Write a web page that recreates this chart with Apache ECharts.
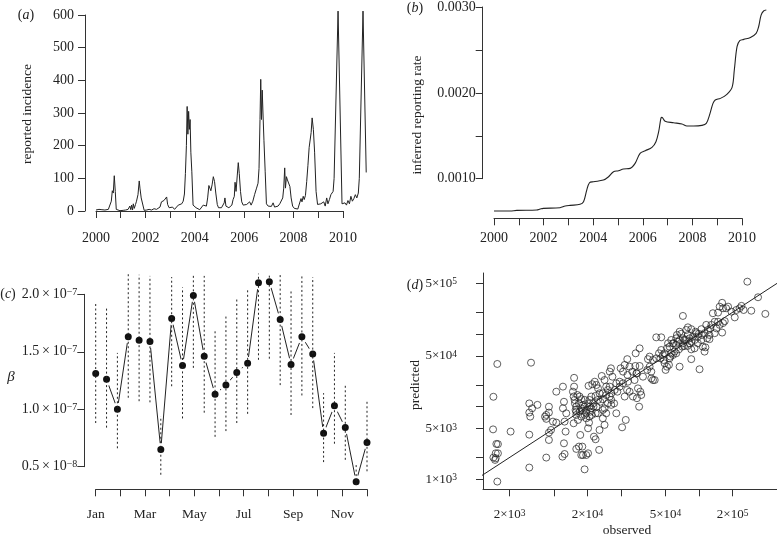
<!DOCTYPE html>
<html>
<head>
<meta charset="utf-8">
<script src="https://cdn.jsdelivr.net/npm/echarts@6.0.0/dist/echarts.min.js"></script>
<style>html,body{margin:0;padding:0;background:#fff}#chart{width:777px;height:538px}</style>
</head>
<body>
<div id="chart"></div>
<script>
// ---- Panel (a): reported incidence ----
const incYear = [2000.00,2000.06,2000.12,2000.18,2000.24,2000.30,2000.36,2000.43,2000.50,2000.57,2000.62,2000.66,2000.70,2000.74,2000.78,2000.82,2000.88,2000.97,2001.10,2001.20,2001.30,2001.37,2001.41,2001.44,2001.48,2001.51,2001.55,2001.60,2001.64,2001.70,2001.75,2001.78,2001.83,2001.89,2001.95,2002.05,2002.15,2002.25,2002.35,2002.45,2002.52,2002.59,2002.65,2002.70,2002.75,2002.80,2002.86,2002.90,2002.96,2003.02,2003.10,2003.18,2003.26,2003.33,2003.40,2003.47,2003.53,2003.58,2003.62,2003.66,2003.69,2003.72,2003.75,2003.78,2003.81,2003.84,2003.88,2003.93,2003.98,2004.05,2004.12,2004.20,2004.27,2004.34,2004.41,2004.47,2004.52,2004.57,2004.61,2004.65,2004.70,2004.75,2004.80,2004.85,2004.91,2004.96,2005.02,2005.08,2005.14,2005.19,2005.22,2005.26,2005.32,2005.38,2005.44,2005.50,2005.55,2005.60,2005.63,2005.67,2005.72,2005.76,2005.80,2005.85,2005.90,2005.96,2006.03,2006.10,2006.17,2006.22,2006.28,2006.35,2006.42,2006.50,2006.56,2006.60,2006.64,2006.67,2006.70,2006.73,2006.76,2006.80,2006.85,2006.90,2006.97,2007.04,2007.10,2007.17,2007.23,2007.30,2007.37,2007.44,2007.50,2007.56,2007.60,2007.64,2007.67,2007.71,2007.75,2007.80,2007.85,2007.90,2007.96,2008.03,2008.10,2008.17,2008.24,2008.30,2008.34,2008.39,2008.43,2008.48,2008.53,2008.58,2008.63,2008.67,2008.71,2008.75,2008.80,2008.85,2008.91,2008.97,2009.04,2009.10,2009.16,2009.22,2009.28,2009.34,2009.39,2009.45,2009.51,2009.57,2009.60,2009.64,2009.80,2009.96,2010.02,2010.08,2010.14,2010.20,2010.26,2010.32,2010.38,2010.44,2010.50,2010.56,2010.62,2010.66,2010.81,2010.94];
const incValue = [3,6,5,8,4,6,3,7,5,10,30,62,55,108,60,5,2,1,2,3,5,15,4,18,3,22,8,20,30,50,92,70,40,35,2,3,5,3,7,5,8,12,28,24,32,28,43,20,10,6,12,5,8,18,20,22,30,52,115,200,320,235,305,250,280,180,120,18,12,10,6,4,10,18,22,15,40,78,70,62,80,105,90,55,20,10,6,10,8,25,40,15,12,10,8,18,35,45,88,60,110,148,115,60,28,18,15,20,25,28,18,30,50,70,85,130,280,403,280,370,300,215,120,22,15,20,14,25,12,18,15,22,25,40,70,132,70,105,95,100,75,40,15,8,12,6,10,38,28,45,35,48,90,140,195,190,240,285,250,180,60,20,15,22,18,28,15,40,22,35,50,45,60,100,612,22,18,25,18,32,22,45,30,38,50,40,55,100,612,118];

// ---- Panel (b): inferred reporting rate ----
const rateYear = [2000.00,2000.65,2000.92,2001.72,2001.86,2001.99,2002.66,2002.87,2003.07,2003.47,2003.61,2003.74,2003.85,2004.01,2004.41,2004.62,2004.82,2005.02,2005.22,2005.49,2005.69,2005.89,2006.10,2006.37,2006.53,2006.64,2006.73,2006.77,2006.90,2007.24,2007.58,2007.78,2008.05,2008.38,2008.56,2008.69,2008.83,2008.92,2009.13,2009.39,2009.60,2009.69,2009.80,2009.91,2010.07,2010.34,2010.57,2010.67,2010.77,2010.87,2010.98];
const rateValue = [0.000624,0.000624,0.000632,0.000636,0.000647,0.000655,0.000663,0.000682,0.00069,0.000702,0.000733,0.000868,0.000953,0.000965,0.000984,0.001023,0.001081,0.001093,0.001112,0.00112,0.001178,0.001295,0.001326,0.001364,0.00143,0.001547,0.001702,0.001713,0.001667,0.001651,0.001636,0.001612,0.001612,0.00162,0.001643,0.00174,0.001876,0.001915,0.001934,0.001981,0.002062,0.002264,0.002535,0.002605,0.00262,0.002643,0.00269,0.002767,0.002903,0.00295,0.002961];
const yearTicks = [2000,2001,2002,2003,2004,2005,2006,2007,2008,2009,2010];

// ---- Panel (c): seasonal transmission beta (units of 1e-7) ----
const monthNames = ['Jan','Feb','Mar','Apr','May','Jun','Jul','Aug','Sep','Oct','Nov','Dec'];
const betaPeriod = [1,2,3,4,5,6,7,8,9,10,11,12,13,14,15,16,17,18,19,20,21,22,23,24,25,26];
const betaMean  = [1.31,1.26,1.00,1.63,1.60,1.59,0.65,1.79,1.38,1.99,1.46,1.13,1.21,1.32,1.40,2.10,2.11,1.78,1.39,1.63,1.48,0.79,1.03,0.84,0.37,0.71];
const betaUpper = [1.93,1.88,1.49,2.18,2.17,2.16,0.94,2.15,2.06,2.18,2.16,1.68,1.81,1.97,2.05,2.18,2.18,2.18,2.04,2.17,2.15,1.14,1.49,1.22,0.53,1.07];
const betaLower = [0.88,0.84,0.66,1.10,1.07,1.06,0.43,1.20,0.92,1.36,0.97,0.76,0.81,0.88,0.96,1.43,1.44,1.21,0.95,1.12,1.01,0.54,0.70,0.56,0.34,0.46];
const betaTickVals = [0.5,1.0,1.5,2.0];
const betaTickMant = ['0.5','1.0','1.5','2.0'];
const betaTickExp  = ['\u22128','\u22127','\u22127','\u22127'];

// ---- Panel (d): predicted vs observed ----
const observed = [1550,1430,1420,1430,1500,1570,1500,1520,1570,1480,1550,2040,3000,3000,3000,3000,3060,3180,3550,3110,4260,4150,4500,4500,4260,4890,5240,4500,4500,4260,4700,
5240,6010,6140,6010,6440,6220,6350,5950,6220,6140,7570,7570,7390,7500,7650,7700,7920,7800,7920,8200,7500,8600,8370,7920,8780,9400,8970,9090,9730,10100,10100,10300,9730,9400,9730,9090,8780,8480,8100,8370,8780,9400,10100,10400,10800,10200,11000,11600,12000,12400,12800,12400,13000,13700,11800,11300,10600,10900,11800,12400,13700,14200,12800,11400,11800,12700,13400,14200,14700,15200,15800,16300,16300,17300,18100,16300,16700,15800,16200,19800,20400,22000,21500,22600,23800,23000,22800,20800,21500,22700,23800,26400,25500,27700,29000,30300,29700,28300,27400,26800,29300,25200,19400,18500,
8480,9090,9730,10400,11200,12000,8780,10400,7920,9400,10800,13700,14700,15200,14200,15800,17500,18100,19400,20800,14700,13700,
27000,29300,27700,31400,34300,36000,37300,38600,40000,37300,36000,34800,38600,41300,41300,45800,43700,45000,47400,48100,49100,50100,51500,53700,54400,56300,51500,58300,56300,54400,59000,62400,64600,63300,66900,69200,71600,74100,73300,78600,70600,65900,60300,58300,55200,66900,85100,101000,85100,91100,97600,108000,112000,114000,105000,106000,99500,94300,88000,82200,85100,76700,71600,79400,85100,93000,105000,116000,126000,124000,138000,143000,153000,164000,170000,161000,133000,148000,153000,161000,164000,175000,182000,195000,209000,216000,231000,240000,251000,294000,338000,271000,393000,124000,118000,
45800,49100,52700,62400,66900,71600,76700,82200,91100,97600,112000,120000,129000,138000,148000,79400,62400];
const predicted = [38800,13700,4870,1990,1950,2280,2280,3070,3050,1850,930,4540,1450,4120,11100,8300,7300,9500,10600,40400,7700,7300,8300,10000,6800,6230,6040,4400,3480,1990,4780,
16100,18900,11700,9500,8110,6230,4540,2050,2230,3130,25000,18900,16100,13800,12400,11100,10000,9020,7700,6570,5910,4080,2820,2620,2160,1370,2820,2160,2160,2280,5040,6040,6920,7700,9020,10600,12700,13800,14500,11100,9500,10000,11100,12400,13800,19400,20400,22100,19900,17900,15300,12400,11700,12700,14100,10000,8550,7700,8110,8110,6920,5610,4780,3870,3560,2540,26500,23300,18900,17000,13800,12400,10600,11100,8110,15300,25900,30400,33800,33800,5200,6570,13800,17000,16100,22100,27400,30400,37600,45200,35600,23300,13800,13100,10000,14500,16100,17900,28800,36400,36400,30400,18900,16100,
8550,8840,8110,10000,11100,10000,7300,7300,8550,12400,9500,15300,14500,11100,9500,18900,17000,21000,22100,21000,8110,9020,
54400,63700,28800,25900,32100,35600,30400,23300,23300,24500,49000,45200,44000,46400,90300,90300,54400,46400,51600,44000,39600,32100,35600,37600,46400,54400,63700,74700,83000,67200,74700,70800,78800,97200,108000,101000,87500,83000,68600,68600,67200,61600,57400,51600,49000,35600,45200,32800,61600,63700,74700,67200,57400,65700,83000,97200,101000,103000,92300,87500,78800,114000,178000,124000,117000,108000,117000,134000,120000,97200,103000,120000,134000,142000,151000,105000,194000,198000,239000,270000,227000,227000,239000,204000,170000,215000,227000,245000,215000,210000,322000,528000,190000,85200,87500,
60400,54400,74700,54400,83000,74700,83000,74700,83000,92300,103000,114000,134000,148000,148000,97200,87500];
const dXTickVals = [2000,5000,10000,20000,50000,100000,200000];
const dXLabelVals = [2000,10000,50000,200000];
const dXLabelMant = ['2','2','5','2'];
const dXLabelExp  = ['3','4','4','5'];
const dYTickVals = [1000,2000,5000,10000,20000,50000,100000,200000,500000];
const dYLabelVals = [1000,5000,50000,500000];
const dYLabelMant = ['1','5','5','5'];
const dYLabelExp  = ['3','3','4','5'];
const identityLine = [1000, 1000000];

// ---------------------------------------------------------------
const FONT = 'Liberation Serif';
const INK = '#222';
const lbl = (extra) => Object.assign({fontFamily: FONT, fontSize: 14, color: INK}, extra);
const axisLine = {show: true, lineStyle: {color: '#333', width: 1}};
const axisTick = (extra) => Object.assign({show: true, length: 7, inside: false, lineStyle: {color: '#333', width: 1}}, extra || {});
const L10 = v => Math.log10(v);
const hiddenAxis = (extra) => Object.assign({type: 'value', show: false, splitLine: {show: false}}, extra);
const sciRich = (base, sup) => ({
  m: {fontFamily: FONT, fontSize: base, color: INK, verticalAlign: 'bottom', lineHeight: base},
  s: {fontFamily: FONT, fontSize: sup, color: INK, verticalAlign: 'top', lineHeight: sup, padding: [0, 0, 6, 0]}
});
const sciText = (mant, exp, sep) => `{m|${mant}${sep}\u00d7${sep}10}{s|${exp}}`;
const logLabel = (vals, mants, exps, sep) => v => {
  for (let i = 0; i < vals.length; i++) if (Math.abs(L10(vals[i]) - v) < 1e-6) return sciText(mants[i], exps[i], sep);
  return '';
};

const YEAR_PX_A = 24.7, YEAR_PX_B = 24.8;

const chart = echarts.init(document.getElementById('chart'), null, {renderer: 'canvas'});

const option = {
  animation: false,
  backgroundColor: '#fff',
  grid: [
    {left: 96, top: 15, width: YEAR_PX_A * 11, height: 196},      // 0: data (a)
    {left: 494, top: 6.7, width: YEAR_PX_B * 11, height: 172},     // 1: data (b)
    {left: 95.7, top: 294.3, width: 271.3, height: 172.4},         // 2: (c)
    {left: 483, top: 273, width: 294, height: 216.3},              // 3: (d)
    {left: 96, top: 15, width: YEAR_PX_A * 10, height: 196},       // 4: axes (a)
    {left: 494, top: 6.7, width: YEAR_PX_B * 10, height: 172}      // 5: axes (b)
  ],
  xAxis: [
    hiddenAxis({gridIndex: 0, min: 2000, max: 2011}),
    hiddenAxis({gridIndex: 1, min: 2000, max: 2011}),
    {gridIndex: 2, type: 'value', min: 1, max: 12, interval: 1, offset: 22.6,
     axisLine, axisTick: axisTick(), splitLine: {show: false},
     axisLabel: lbl({fontSize: 13.5, margin: 18, formatter: v => (v % 2 === 1 ? monthNames[v - 1] : '')})},
    {gridIndex: 3, type: 'value', min: 3.062, max: 5.699,
     axisLine, splitLine: {show: false},
     axisTick: axisTick({customValues: dXTickVals.map(L10)}),
     axisLabel: lbl({margin: 19, customValues: dXLabelVals.map(L10), rich: sciRich(13, 9.5),
       formatter: logLabel(dXLabelVals, dXLabelMant, dXLabelExp, '')})},
    {gridIndex: 4, type: 'value', min: 2000, max: 2010, interval: 1, offset: 7,
     axisLine, axisTick: axisTick({customValues: yearTicks}), splitLine: {show: false},
     axisLabel: lbl({margin: 13, formatter: v => (v % 2 === 0 ? String(v) : '')})},
    {gridIndex: 5, type: 'value', min: 2000, max: 2010, interval: 1, offset: 39.6,
     axisLine, axisTick: axisTick({customValues: yearTicks}), splitLine: {show: false},
     axisLabel: lbl({margin: 13, formatter: v => (v % 2 === 0 ? String(v) : '')})}
  ],
  yAxis: [
    hiddenAxis({gridIndex: 0, min: 0, max: 600}),
    hiddenAxis({gridIndex: 1, min: 0.001, max: 0.003}),
    {gridIndex: 2, type: 'value', min: 0.5, max: 2.0, interval: 0.5, offset: 11.4,
     axisLine, axisTick: axisTick(), splitLine: {show: false},
     axisLabel: lbl({margin: 7, rich: sciRich(14, 10), formatter: v => {
       for (let i = 0; i < betaTickVals.length; i++)
         if (Math.abs(betaTickVals[i] - v) < 1e-9) return sciText(betaTickMant[i], betaTickExp[i], '\u2009');
       return '';
     }})},
    {gridIndex: 3, type: 'value', min: 2.862, max: 5.842,
     axisLine, splitLine: {show: false},
     axisTick: axisTick({customValues: dYTickVals.map(L10)}),
     axisLabel: lbl({margin: 26, customValues: dYLabelVals.map(L10), rich: sciRich(13, 9.5),
       formatter: logLabel(dYLabelVals, dYLabelMant, dYLabelExp, '')})},
    {gridIndex: 4, type: 'value', min: 0, max: 600, interval: 100, offset: 11,
     axisLine, axisTick: axisTick(), splitLine: {show: false},
     axisLabel: lbl({margin: 11, formatter: v => String(v)})},
    {gridIndex: 5, type: 'value', min: 0.001, max: 0.003, interval: 0.0005, offset: 11.3,
     axisLine, axisTick: axisTick(), splitLine: {show: false},
     axisLabel: lbl({margin: 7, formatter: v => (Math.abs(v * 1000 - Math.round(v * 1000)) < 1e-6 ? v.toFixed(4) : '')})}
  ],
  series: [
    {type: 'line', xAxisIndex: 0, yAxisIndex: 0, clip: false, showSymbol: false, symbol: 'none',
     lineStyle: {color: INK, width: 1}, data: incYear.map((t, i) => [t, incValue[i]])},
    {type: 'line', xAxisIndex: 1, yAxisIndex: 1, clip: false, showSymbol: false, symbol: 'none', smooth: 0.35,
     lineStyle: {color: INK, width: 1.1}, data: rateYear.map((t, i) => [t, rateValue[i]])},
    {type: 'line', xAxisIndex: 2, yAxisIndex: 2, clip: false, z: 2,
     symbol: 'circle', symbolSize: 10, showSymbol: true,
     itemStyle: {color: '#111', borderColor: '#fff', borderWidth: 3},
     lineStyle: {color: INK, width: 1},
     data: betaPeriod.map((p, i) => [1 + (p - 1) * 11 / 25, betaMean[i]])},
    {type: 'custom', xAxisIndex: 2, yAxisIndex: 2, z: 3, clip: false,
     encode: {x: 0, y: [1, 2]},
     data: betaPeriod.map((p, i) => [1 + (p - 1) * 11 / 25, betaLower[i], betaUpper[i]]),
     renderItem: (params, api) => {
       const a = api.coord([api.value(0), api.value(1)]);
       const b = api.coord([api.value(0), api.value(2)]);
       return {type: 'line', shape: {x1: a[0], y1: a[1], x2: b[0], y2: b[1]},
               style: {stroke: INK, lineWidth: 1, lineDash: [2, 2.5]}};
     }},
    {type: 'line', xAxisIndex: 3, yAxisIndex: 3, clip: true, showSymbol: false, symbol: 'none',
     lineStyle: {color: INK, width: 1}, data: identityLine.map(v => [L10(v), L10(v)])},
    {type: 'scatter', xAxisIndex: 3, yAxisIndex: 3, clip: false, symbol: 'circle', symbolSize: 7,
     itemStyle: {color: 'rgba(0,0,0,0)', borderColor: INK, borderWidth: 0.9},
     data: observed.map((o, i) => [L10(o), L10(predicted[i])])}
  ],
  graphic: [
    {type: 'text', x: 26, y: 15, style: {text: '({i|a})', fontFamily: FONT, fontSize: 14, fill: INK, align: 'center', verticalAlign: 'middle', rich: {i: {fontStyle: 'italic', fontFamily: FONT, fontSize: 14, fill: INK}}}},
    {type: 'text', x: 415, y: 8, style: {text: '({i|b})', fontFamily: FONT, fontSize: 14, fill: INK, align: 'center', verticalAlign: 'middle', rich: {i: {fontStyle: 'italic', fontFamily: FONT, fontSize: 14, fill: INK}}}},
    {type: 'text', x: 8, y: 294, style: {text: '({i|c})', fontFamily: FONT, fontSize: 14, fill: INK, align: 'center', verticalAlign: 'middle', rich: {i: {fontStyle: 'italic', fontFamily: FONT, fontSize: 14, fill: INK}}}},
    {type: 'text', x: 415, y: 285, style: {text: '({i|d})', fontFamily: FONT, fontSize: 14, fill: INK, align: 'center', verticalAlign: 'middle', rich: {i: {fontStyle: 'italic', fontFamily: FONT, fontSize: 14, fill: INK}}}},
    {type: 'text', x: 27, y: 114, rotation: Math.PI / 2, style: {text: 'reported incidence', fontFamily: FONT, fontSize: 13.5, fill: INK, align: 'center', verticalAlign: 'middle'}},
    {type: 'text', x: 417, y: 115, rotation: Math.PI / 2, style: {text: 'inferred reporting rate', fontFamily: FONT, fontSize: 13.5, fill: INK, align: 'center', verticalAlign: 'middle'}},
    {type: 'text', x: 11, y: 377, style: {text: '\u03b2', fontFamily: FONT, fontSize: 15, fontStyle: 'italic', fill: INK, align: 'center', verticalAlign: 'middle'}},
    {type: 'text', x: 415, y: 385, rotation: Math.PI / 2, style: {text: 'predicted', fontFamily: FONT, fontSize: 13.5, fill: INK, align: 'center', verticalAlign: 'middle'}},
    {type: 'text', x: 627, y: 530, style: {text: 'observed', fontFamily: FONT, fontSize: 13.5, fill: INK, align: 'center', verticalAlign: 'middle'}}
  ]
};
chart.setOption(option);
</script>
</body>
</html>
